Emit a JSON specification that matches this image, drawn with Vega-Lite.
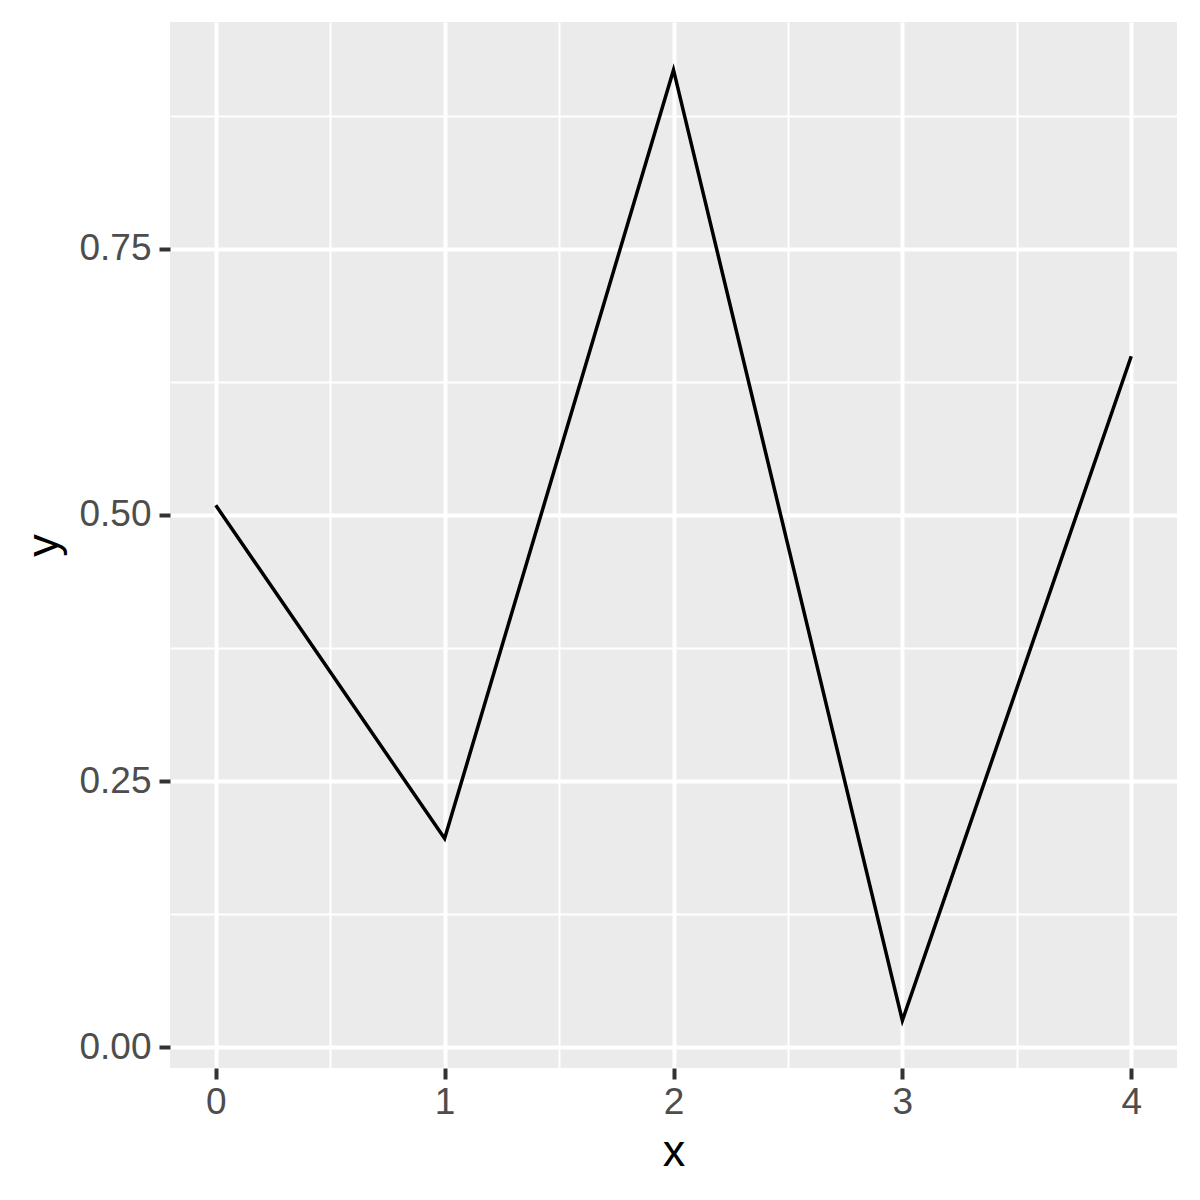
{
  "$schema": "https://vega.github.io/schema/vega-lite/v6.json",
  "autosize": {"type": "none"},
  "width": 1007,
  "height": 1046,
  "padding": {"left": 170, "top": 22, "right": 23, "bottom": 132},
  "background": "white",
  "config": {
    "view": {"fill": "#EBEBEB", "stroke": null},
    "axis": {"labelFont": "Liberation Sans", "titleFont": "Liberation Sans"}
  },
  "data": {"values": [
    {"x": 0, "y": 0.509},
    {"x": 1, "y": 0.196},
    {"x": 2, "y": 0.918},
    {"x": 3, "y": 0.025},
    {"x": 4, "y": 0.649}
  ]},
  "resolve": {"axis": {"x": "independent", "y": "independent"}},
  "layer": [
    {
      "mark": {"type": "line", "opacity": 0},
      "encoding": {
        "x": {"field": "x", "type": "quantitative",
          "scale": {"domain": [-0.2, 4.2], "nice": false, "zero": false},
          "axis": {"orient": "top", "values": [0.5, 1.5, 2.5, 3.5], "grid": true, "gridColor": "white", "gridWidth": 2, "labels": false, "ticks": false, "domain": false, "title": null}},
        "y": {"field": "y", "type": "quantitative",
          "scale": {"domain": [-0.0196, 0.963], "nice": false, "zero": false},
          "axis": {"orient": "right", "values": [0.125, 0.375, 0.625, 0.875], "grid": true, "gridColor": "white", "gridWidth": 2, "labels": false, "ticks": false, "domain": false, "title": null}}
      }
    },
    {
      "mark": {"type": "line", "color": "black", "strokeWidth": 3.5},
      "encoding": {
        "x": {"field": "x", "type": "quantitative",
          "axis": {"orient": "bottom", "values": [0, 1, 2, 3, 4], "format": "d", "grid": true, "gridColor": "white", "gridWidth": 4, "domain": false,
            "tickColor": "#333333", "tickWidth": 4, "tickSize": 11, "labelColor": "#4D4D4D", "labelFontSize": 37, "labelPadding": 5,
            "title": "x", "titleFontSize": 45, "titleFontWeight": "normal", "titleColor": "black", "titlePadding": 9}},
        "y": {"field": "y", "type": "quantitative",
          "axis": {"orient": "left", "values": [0, 0.25, 0.5, 0.75], "format": ".2f", "grid": true, "gridColor": "white", "gridWidth": 4, "domain": false,
            "tickColor": "#333333", "tickWidth": 4, "tickSize": 11, "labelColor": "#4D4D4D", "labelFontSize": 37, "labelPadding": 8,
            "title": "y", "titleFontSize": 45, "titleFontWeight": "normal", "titleColor": "black", "titlePadding": 12}}
      }
    }
  ]
}
